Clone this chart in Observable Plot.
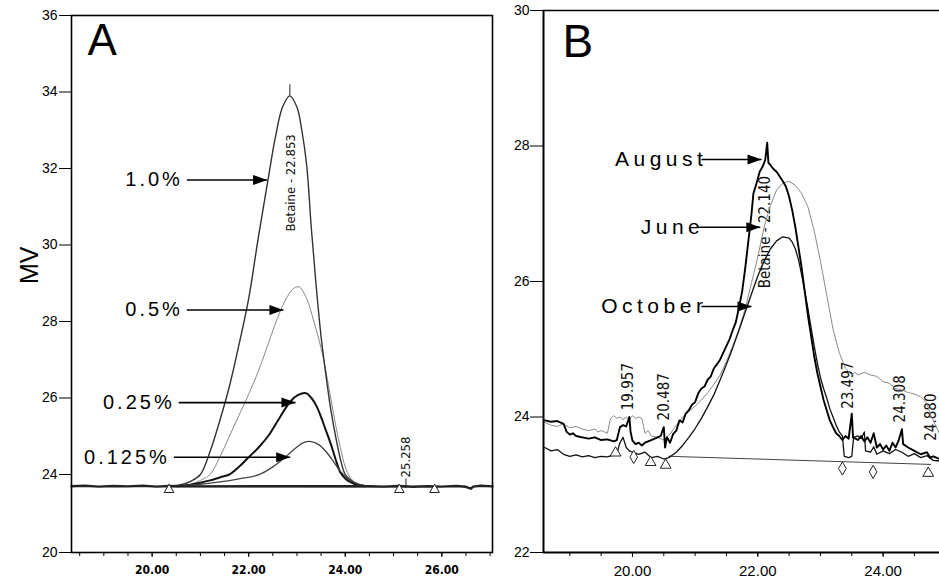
<!DOCTYPE html>
<html><head><meta charset="utf-8">
<script src="https://cdn.jsdelivr.net/npm/d3@7"></script>
<script src="https://cdn.jsdelivr.net/npm/@observablehq/plot@0.6"></script>
<style>
html,body{margin:0;padding:0;background:#fff}
body{width:939px;height:578px;overflow:hidden;position:relative;font-family:Arial,"Liberation Sans",sans-serif}
#a,#b{position:absolute;top:0}
#a{left:0}
#b{left:500px}
.lab text{letter-spacing:3px}
.labb text{letter-spacing:4.5px}
</style></head><body><div id="a"></div><div id="b"></div>
<script>
// ---------- Panel A data (time in min, response in mV) ----------
const baseA = [[18.33,23.40],[18.6,23.42],[18.9,23.38],[19.2,23.41],[19.5,23.39],[19.8,23.42],[20.1,23.38],[20.35,23.41],[20.6,23.39],[24.5,23.40],[24.8,23.38],[25.1,23.41],[25.4,23.37],[25.7,23.40],[26.0,23.38],[26.3,23.41],[26.5,23.37],[26.6,23.27],[26.65,23.38],[26.8,23.42],[27.05,23.39]];
const pct100 = [[20.3,23.40],[20.6,23.48],[20.8,23.65],[21.0,24.0],[21.2,24.6],[21.4,25.4],[21.6,26.3],[21.8,27.4],[22.0,28.6],[22.2,30.2],[22.4,31.7],[22.55,32.8],[22.7,33.6],[22.85,33.9],[23.0,33.6],[23.1,33.0],[23.2,32.1],[23.3,30.4],[23.4,28.9],[23.5,27.6],[23.6,26.6],[23.7,25.7],[23.8,25.0],[23.9,24.4],[24.0,24.0],[24.1,23.75],[24.2,23.55],[24.35,23.45],[24.5,23.4]];
const pct050 = [[20.5,23.4],[20.8,23.5],[21.0,23.7],[21.2,24.0],[21.4,24.45],[21.6,25.0],[21.8,25.55],[22.0,26.1],[22.2,26.7],[22.4,27.4],[22.6,28.1],[22.8,28.65],[22.95,28.88],[23.05,28.9],[23.2,28.6],[23.35,28.0],[23.5,27.3],[23.6,26.7],[23.7,26.0],[23.8,25.3],[23.9,24.7],[24.0,24.2],[24.1,23.85],[24.2,23.6],[24.35,23.45],[24.5,23.4]];
const pct025 = [[20.5,23.4],[20.8,23.48],[21.0,23.58],[21.2,23.7],[21.4,23.85],[21.6,24.0],[21.8,24.2],[22.0,24.45],[22.2,24.7],[22.4,25.0],[22.6,25.4],[22.8,25.8],[22.95,26.02],[23.1,26.12],[23.2,26.12],[23.3,26.0],[23.4,25.8],[23.5,25.5],[23.6,25.15],[23.7,24.8],[23.8,24.4],[23.9,24.05],[24.0,23.8],[24.1,23.62],[24.25,23.47],[24.4,23.4]];
const pct0125 = [[20.6,23.4],[21.0,23.5],[21.4,23.62],[21.8,23.78],[22.2,23.98],[22.5,24.2],[22.8,24.5],[23.0,24.72],[23.15,24.84],[23.3,24.86],[23.45,24.78],[23.6,24.6],[23.75,24.35],[23.9,24.08],[24.05,23.8],[24.2,23.58],[24.35,23.45],[24.5,23.4]];
const intLineA = [[20.35,23.37],[25.25,23.35]];
const markTriA = [[20.35,23.22],[25.12,23.22],[25.85,23.22]];
const labelsA = ["1.0%","0.5%","0.25%","0.125%"];
const labelAyA = [31.7,28.3,25.88,24.45];
const arrowFromA = [20.72,20.72,20.55,20.45];
const arrowToA = [22.38,22.72,22.97,22.86];
const peakTextA = [["Betaine - 22.853",22.87,30.35],["25.258",25.25,23.85]];
const peakTickA = [[22.853,33.9,34.2],[25.258,23.3,23.8]];
const xMinorA = [18.5,19,19.5,20,20.5,21,21.5,22,22.5,23,23.5,24,24.5,25,25.5,26,26.5,27];
const xMajorA = [20,22,24,26];
const yTicksA = [20,24,26,28,30,32,34,36];

// ---------- Panel B data ----------
const august = [[18.6,23.95],[18.7,23.93],[18.8,23.94],[18.9,23.90],[18.95,23.78],[19.0,23.74],[19.05,23.76],[19.1,23.72],[19.2,23.70],[19.3,23.68],[19.4,23.70],[19.5,23.66],[19.6,23.67],[19.7,23.64],[19.75,23.66],[19.8,23.85],[19.85,23.88],[19.9,23.86],[19.95,24.00],[19.97,23.78],[20.0,23.65],[20.05,23.60],[20.1,23.62],[20.15,23.58],[20.2,23.62],[20.3,23.66],[20.4,23.70],[20.45,23.72],[20.5,23.85],[20.52,23.55],[20.55,23.70],[20.6,23.62],[20.65,23.75],[20.7,23.80],[20.75,23.95],[20.8,23.92],[20.85,24.05],[20.9,24.10],[20.95,24.18],[21.0,24.22],[21.05,24.35],[21.1,24.42],[21.15,24.45],[21.2,24.55],[21.25,24.60],[21.3,24.72],[21.35,24.78],[21.4,24.85],[21.45,24.95],[21.5,25.05],[21.55,25.15],[21.6,25.28],[21.65,25.40],[21.7,25.62],[21.75,25.85],[21.8,26.20],[21.85,26.60],[21.9,27.00],[21.93,27.30],[21.98,27.45],[22.03,27.62],[22.08,27.70],[22.12,27.80],[22.15,28.05],[22.17,27.75],[22.2,27.72],[22.25,27.66],[22.3,27.62],[22.35,27.55],[22.4,27.48],[22.45,27.40],[22.5,27.25],[22.55,27.05],[22.6,26.80],[22.65,26.50],[22.7,26.20],[22.75,25.85],[22.8,25.50],[22.85,25.20],[22.9,24.90],[22.95,24.65],[23.0,24.45],[23.05,24.25],[23.1,24.10],[23.15,23.95],[23.2,23.85],[23.25,23.76],[23.3,23.72],[23.35,23.66],[23.4,23.72],[23.45,23.68],[23.5,24.05],[23.52,23.70],[23.6,23.66],[23.65,23.72],[23.7,23.64],[23.75,23.70],[23.8,23.62],[23.85,23.76],[23.9,23.55],[23.95,23.60],[24.0,23.52],[24.05,23.58],[24.1,23.50],[24.15,23.62],[24.2,23.55],[24.25,23.66],[24.3,23.82],[24.32,23.60],[24.4,23.55],[24.5,23.50],[24.6,23.45],[24.7,23.48],[24.75,23.40],[24.8,23.42],[24.9,23.38]];
const june = [[18.6,23.92],[18.7,23.88],[18.8,23.86],[18.9,23.90],[19.0,23.84],[19.1,23.86],[19.2,23.82],[19.3,23.80],[19.4,23.82],[19.45,23.78],[19.5,23.80],[19.55,23.78],[19.6,23.76],[19.65,23.98],[19.7,24.02],[19.75,23.98],[19.8,24.0],[19.85,23.96],[19.9,24.0],[19.95,23.96],[20.0,24.02],[20.05,23.98],[20.1,24.0],[20.15,23.98],[20.2,23.76],[20.25,23.80],[20.3,23.72],[20.4,23.70],[20.5,23.66],[20.6,23.75],[20.7,23.88],[20.8,24.00],[20.9,24.08],[21.0,24.16],[21.1,24.25],[21.2,24.36],[21.3,24.48],[21.4,24.62],[21.5,24.82],[21.6,25.05],[21.7,25.30],[21.8,25.60],[21.9,25.98],[22.0,26.36],[22.1,26.80],[22.2,27.12],[22.3,27.35],[22.4,27.45],[22.5,27.48],[22.6,27.42],[22.7,27.30],[22.8,27.10],[22.9,26.75],[23.0,26.30],[23.1,25.80],[23.2,25.30],[23.3,24.95],[23.4,24.72],[23.5,24.62],[23.55,24.66],[23.6,24.62],[23.7,24.66],[23.8,24.62],[23.9,24.60],[24.0,24.52],[24.1,24.50],[24.2,24.42],[24.3,24.40],[24.4,24.36],[24.5,24.34],[24.6,24.30],[24.7,24.20],[24.75,24.05],[24.8,23.95],[24.85,23.85],[24.9,23.75]];
const october = [[18.6,23.55],[18.7,23.50],[18.8,23.52],[18.9,23.45],[19.0,23.42],[19.1,23.44],[19.2,23.41],[19.3,23.43],[19.4,23.40],[19.5,23.42],[19.6,23.41],[19.7,23.44],[19.75,23.46],[19.8,23.62],[19.85,23.70],[19.9,23.55],[19.95,23.50],[20.0,23.48],[20.1,23.45],[20.2,23.48],[20.3,23.40],[20.4,23.42],[20.5,23.38],[20.58,23.40],[20.7,23.48],[20.8,23.58],[20.9,23.70],[21.0,23.83],[21.1,23.98],[21.2,24.15],[21.3,24.33],[21.4,24.55],[21.5,24.78],[21.6,25.02],[21.7,25.28],[21.8,25.55],[21.9,25.82],[22.0,26.08],[22.1,26.30],[22.2,26.48],[22.3,26.60],[22.4,26.66],[22.5,26.64],[22.55,26.58],[22.6,26.48],[22.65,26.32],[22.7,26.10],[22.75,25.85],[22.8,25.60],[22.85,25.32],[22.9,25.05],[22.95,24.80],[23.0,24.58],[23.05,24.42],[23.1,24.28],[23.15,24.12],[23.2,24.00],[23.25,23.88],[23.3,23.78],[23.35,23.72],[23.38,23.42],[23.45,23.40],[23.5,23.42],[23.53,23.70],[23.6,23.72],[23.65,23.68],[23.7,23.78],[23.72,23.50],[23.8,23.48],[23.85,23.56],[23.9,23.45],[24.0,23.50],[24.1,23.46],[24.2,23.52],[24.3,23.48],[24.4,23.42],[24.5,23.46],[24.6,23.40],[24.7,23.43],[24.8,23.36],[24.9,23.35]];
const intLineB = [[20.58,23.42],[24.76,23.30]];
const markTriB = [[19.73,23.47],[20.29,23.33],[20.53,23.29],[24.72,23.17]];
const markDiaB = [[20.02,23.41],[23.35,23.24],[23.84,23.19]];
const labelsB = ["August","June","October"];
const labelByB = [27.8,26.8,25.63];
const arrowFromB = [21.1,21.05,21.1];
const arrowToB = [22.06,22.04,21.9];
const peakTextB = [["19.957",19.93,24.1],["20.487",20.5,23.95],["Betaine - 22.140",22.12,25.9],["23.497",23.44,24.12],["24.308",24.27,23.92],["24.880",24.77,23.65]];
const xMinorB = [19,19.5,20,20.5,21,21.5,22,22.5,23,23.5,24,24.5];
const xMajorB = [20,22,24];
const yTicksB = [22,24,26,28,30];

// ---------- helpers ----------
const X = d => d[0], Y = d => d[1];
const headRight = {draw(ctx) { ctx.moveTo(0, 0); ctx.lineTo(-14, -5); ctx.lineTo(-14, 5); ctx.closePath(); }};
const fmt2 = d3.format(".2f");
const narrowFont = "'Liberation Sans Narrow','DejaVu Sans Condensed','Arial Narrow',Arial,sans-serif";

// ---------- Panel A ----------
const arrowsA = labelsA.map((s, i) => ({s, y: labelAyA[i], x1: arrowFromA[i], x2: arrowToA[i]}));
const plotA = Plot.plot({
  width: 500, height: 578,
  marginLeft: 71, marginRight: 8, marginTop: 15, marginBottom: 26,
  style: {fontFamily: "Arial,'Liberation Sans',sans-serif", color: "black", background: "white", overflow: "visible"},
  x: {domain: [18.33, 27.05], label: null},
  y: {type: "linear", domain: [20, 24, 36], range: [552, 474, 15], label: null},
  marks: [
    Plot.line(intLineA, {x: X, y: Y, stroke: "#666", strokeWidth: 0.8}),
    Plot.line(pct050, {x: X, y: Y, stroke: "#888", strokeWidth: 1, curve: "catmull-rom"}),
    Plot.line(pct100, {x: X, y: Y, stroke: "#333", strokeWidth: 1.4, curve: "catmull-rom"}),
    Plot.line(pct025, {x: X, y: Y, stroke: "#111", strokeWidth: 2, curve: "catmull-rom"}),
    Plot.line(pct0125, {x: X, y: Y, stroke: "#444", strokeWidth: 1.3, curve: "catmull-rom"}),
    Plot.line(baseA, {x: X, y: Y, stroke: "#222", strokeWidth: 2.4}),
    Plot.link(peakTickA, {x1: d => d[0], x2: d => d[0], y1: d => d[1], y2: d => d[2], stroke: "#222", strokeWidth: 1}),
    Plot.text(peakTextA, {x: d => d[1], y: d => d[2], text: d => d[0], rotate: -90, textAnchor: "start", fontSize: 13, fontFamily: narrowFont, fill: "#111"}),
    Plot.dot(markTriA, {x: X, y: Y, symbol: "triangle", r: 3.6, fill: "white", stroke: "#222", strokeWidth: 1}),
    Plot.link(arrowsA, {x1: "x1", x2: "x2", y1: "y", y2: "y", stroke: "black", strokeWidth: 1.6}),
    Plot.dot(arrowsA, {x: "x2", y: "y", symbol: headRight, fill: "black", stroke: "none"}),
    Plot.text(arrowsA, {x: "x1", y: "y", text: "s", textAnchor: "end", dx: -4, fontSize: 20, className: "lab"}),
    Plot.text(["A"], {frameAnchor: "top-left", dx: 16, dy: 8, text: d => d, fontSize: 44, lineAnchor: "top"}),
    Plot.text(["MV"], {frameAnchor: "left", dx: -42, rotate: -90, text: d => d, fontSize: 25}),
    Plot.frame({stroke: "black", strokeWidth: 1.6}),
    Plot.axisX({ticks: xMinorA, tickSize: 4, tickFormat: () => ""}),
    Plot.axisX({ticks: xMajorA, tickSize: 5, tickPadding: 8, tickFormat: fmt2, fontSize: 12, fontWeight: "bold", fontFamily: narrowFont}),
    Plot.axisY({ticks: yTicksA, tickSize: 12, tickPadding: 2, fontSize: 14, tickFormat: d => String(d)})
  ]
});
document.getElementById("a").append(plotA);

// ---------- Panel B ----------
const arrowsB = labelsB.map((s, i) => ({s, y: labelByB[i], x1: arrowFromB[i], x2: arrowToB[i]}));
const plotB = Plot.plot({
  width: 439, height: 578,
  marginLeft: 43, marginRight: 0, marginTop: 10, marginBottom: 26,
  style: {fontFamily: "Arial,'Liberation Sans',sans-serif", color: "black", background: "white", overflow: "visible"},
  x: {domain: [18.58, 24.9], label: null},
  y: {domain: [22, 30], label: null},
  marks: [
    Plot.text(peakTextB, {x: d => d[1], y: d => d[2], text: d => d[0], rotate: -90, textAnchor: "start", fontSize: 15, fontFamily: narrowFont, fill: "#111"}),
    Plot.line(intLineB, {x: X, y: Y, stroke: "#444", strokeWidth: 1}),
    Plot.line(june, {x: X, y: Y, stroke: "#8a8a8a", strokeWidth: 1}),
    Plot.line(october, {x: X, y: Y, stroke: "#111", strokeWidth: 1.3}),
    Plot.line(august, {x: X, y: Y, stroke: "#000", strokeWidth: 1.9}),
    Plot.dot(markTriB, {x: X, y: Y, symbol: "triangle", r: 4, fill: "white", stroke: "#222", strokeWidth: 1}),
    Plot.dot(markDiaB, {x: X, y: Y, symbol: "diamond", r: 4, fill: "white", stroke: "#222", strokeWidth: 1}),
    Plot.link(arrowsB, {x1: "x1", x2: "x2", y1: "y", y2: "y", stroke: "black", strokeWidth: 1.6}),
    Plot.dot(arrowsB, {x: "x2", y: "y", symbol: headRight, fill: "black", stroke: "none"}),
    Plot.text(arrowsB, {x: "x1", y: "y", text: "s", textAnchor: "end", dx: 6, fontSize: 21, className: "labb"}),
    Plot.text(["B"], {frameAnchor: "top-left", dx: 19, dy: 14, text: d => d, fontSize: 46, lineAnchor: "top"}),
    Plot.ruleY([30], {stroke: "black", strokeWidth: 1.4}),
    Plot.ruleY([22], {stroke: "black", strokeWidth: 1.8}),
    Plot.ruleX([18.58], {stroke: "black", strokeWidth: 2}),
    Plot.axisX({ticks: xMinorB, tickSize: 4, tickFormat: () => ""}),
    Plot.axisX({ticks: xMajorB, tickSize: 5, tickPadding: 8, tickFormat: fmt2, fontSize: 15}),
    Plot.axisY({ticks: yTicksB, tickSize: 13, tickPadding: 1, fontSize: 14, tickFormat: d => String(d)})
  ]
});
document.getElementById("b").append(plotB);
</script>
</body></html>
